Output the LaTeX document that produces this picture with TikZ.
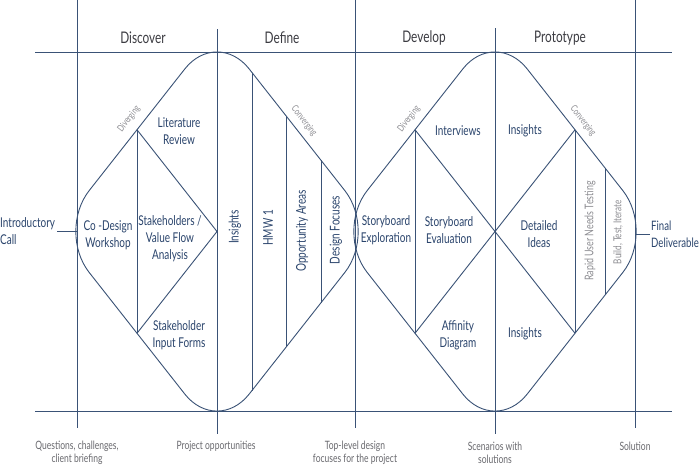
\documentclass[tikz,border=0pt]{standalone}
\usepackage{fontspec}
\setmainfont{Lato}[FakeStretch=0.74]
\usetikzlibrary{calc}
\begin{document}
\begin{tikzpicture}[x=1pt,y=-1pt,
  ln/.style={draw=lncol,line width=0.9pt},
  hdr/.style={text=hdrcol,font=\fontsize{16}{19}\selectfont,inner sep=0pt},
  lbl/.style={text=txtcol,font=\fontsize{13.5}{17}\selectfont,align=center,inner sep=0pt},
  rlbl/.style={lbl,rotate=90},
  tiny/.style={text=grycol,font=\fontsize{9.5}{10}\selectfont,inner sep=0pt},
  glbl/.style={text=grycol,font=\fontsize{12}{13}\selectfont,inner sep=0pt,rotate=90},
  blbl/.style={text=botcol,font=\fontsize{11.5}{13}\selectfont,align=center,inner sep=0pt},
]
\definecolor{lncol}{RGB}{58,82,118}
\definecolor{txtcol}{RGB}{42,68,108}
\definecolor{hdrcol}{RGB}{60,60,66}
\definecolor{grycol}{RGB}{140,140,145}
\definecolor{botcol}{RGB}{105,105,110}
\useasboundingbox[fill=white] (0,0) rectangle (700,467);

% frame lines
\coordinate (tl) at (35,52); \coordinate (tr) at (672,52);
\coordinate (bl) at (35,411); \coordinate (br) at (672,411);
\draw[ln] (tl) -- (tr);
\draw[ln] (bl) -- (br);
\draw[ln] (77,0) -- (77,428);
\draw[ln] (217,29) -- (217,434);
\draw[ln] (355,0) -- (355,428);
\draw[ln] (495,28) -- (495,434);
\draw[ln] (635,0) -- (635,428);

% diamonds
\coordinate (aT) at (217,28); \coordinate (aL) at (57,231.5);
\coordinate (aB) at (217,435); \coordinate (aR) at (377,231.5);
\coordinate (bT) at (495,28); \coordinate (bL) at (335,231.5);
\coordinate (bB) at (495,435); \coordinate (bR) at (655,231.5);
\draw[ln,rounded corners=52pt] ($(aT)!0.5!(aL)$) -- (aL) -- (aB) -- (aR) -- (aT) -- cycle;
\draw[ln,rounded corners=52pt] ($(bT)!0.5!(bL)$) -- (bL) -- (bB) -- (bR) -- (bT) -- cycle;

% left diamond inner lines
\coordinate (a1) at (137,129.75); \coordinate (a2) at (137,333.25); \coordinate (ac) at (217,231.5);
\draw[ln] (a1) -- (a2);
\draw[ln] (a1) -- (ac) -- (a2);
\draw[ln] (252,72.5) -- (252,390.5);
\draw[ln] (286,115.8) -- (286,347.2);
\draw[ln] (321,160.3) -- (321,302.7);

% right diamond inner lines
\coordinate (b1) at (415,129.75); \coordinate (b2) at (415,333.25);
\coordinate (b3) at (575,129.75); \coordinate (b4) at (575,333.25);
\draw[ln] (b1) -- (b2);
\draw[ln] (b3) -- (b4);
\draw[ln] (b1) -- (b4);
\draw[ln] (b2) -- (b3);
\draw[ln] (605,167.9) -- (605,295.1);

% side connectors
\coordinate (ic) at (57,231);
\coordinate (fd) at (650,234);
\draw[ln] (ic) -- (77,231);
\draw[ln] (635,234) -- (fd);

% headers
\node[hdr] (h1) at (143,38) {Discover};
\node[hdr] (h2) at (282,38) {Define};
\node[hdr] (h3) at (424,38) {Develop};
\node[hdr] (h4) at (560,38) {Prototype};

% left labels
\node[lbl,anchor=west,align=left] (intro) at (0,231) {Introductory\\Call};
\node[lbl] (codes) at (108,235) {Co -Design\\Workshop};
\node[lbl] (lit) at (179,131) {Literature\\Review};
\node[lbl] (stake) at (170,239) {Stakeholders /\\Value Flow\\Analysis};
\node[lbl] (sif) at (179,335) {Stakeholder\\Input Forms};
\node[rlbl] (ins1) at (235,227) {Insights};
\node[rlbl] (hmw) at (268,228) {HMW 1};
\node[rlbl] (opp) at (302,231) {Opportunity Areas};
\node[rlbl] (dfoc) at (336,230) {Design Focuses};
\node[tiny,rotate=51.8] (div1) at (129,119) {Diverging};
\node[tiny,rotate=-51.8] (con1) at (304,121) {Converging};

% right labels
\node[tiny,rotate=51.8] (div2) at (409,119) {Diverging};
\node[tiny,rotate=-51.8] (con2) at (583,121) {Converging};
\node[lbl] (intv) at (458,131) {Interviews};
\node[lbl] (ins2) at (525,131) {Insights};
\node[lbl] (sbx) at (386,230) {Storyboard\\Exploration};
\node[lbl] (sbe) at (449,230) {Storyboard\\Evaluation};
\node[lbl] (det) at (539,234) {Detailed\\Ideas};
\node[glbl] (rapid) at (590,231) {Rapid User Needs Testing};
\node[glbl,font=\fontsize{11}{13}\selectfont] (build) at (618,232) {Build, Test, Iterate};
\node[lbl,anchor=west,align=left,font=\fontsize{13}{17}\selectfont] (final) at (651,234) {Final\\Deliverable};
\node[lbl] (aff) at (458,335) {Affinity\\Diagram};
\node[lbl] (ins3) at (525,334) {Insights};

% bottom labels
\node[blbl] (q) at (77,453) {Questions, challenges,\\client briefing};
\node[blbl] (po) at (216,446) {Project opportunities};
\node[blbl] (tld) at (355,453) {Top-level design\\focuses for the project};
\node[blbl] (sws) at (495,453) {Scenarios with\\solutions};
\node[blbl] (sol) at (635,446) {Solution};
\end{tikzpicture}
\end{document}
